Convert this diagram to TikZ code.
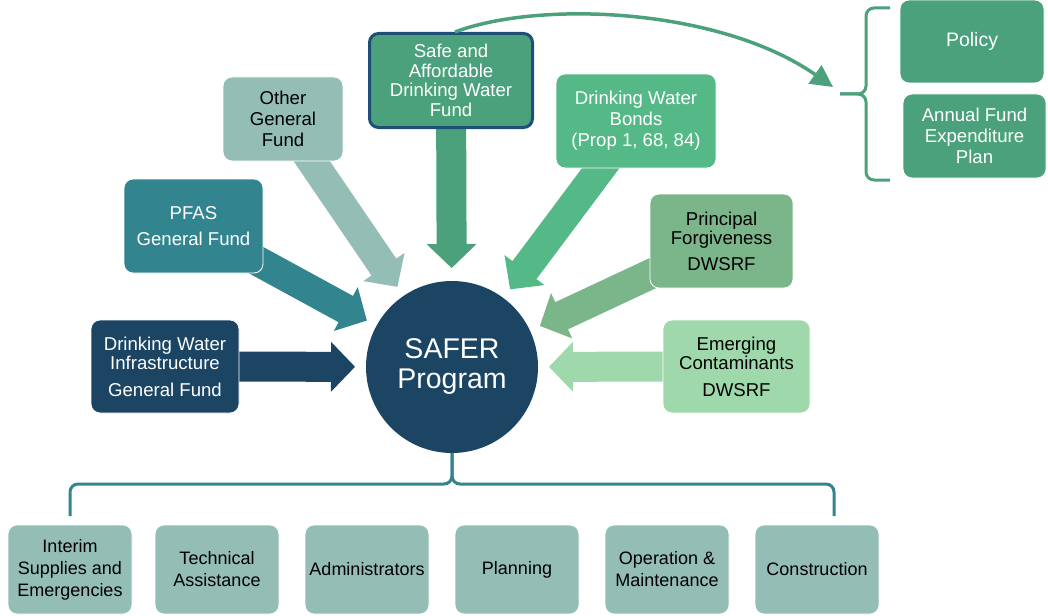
\documentclass[tikz,border=0pt]{standalone}
\usepackage{fontspec}
\setmainfont{Liberation Sans}
\usetikzlibrary{calc,arrows.meta,backgrounds}
\definecolor{navy}{HTML}{1B4563}
\definecolor{teal}{HTML}{32858F}
\definecolor{lgray}{HTML}{94BDB6}
\definecolor{midgreen}{HTML}{4AA17B}
\definecolor{bondsg}{HTML}{55B887}
\definecolor{princg}{HTML}{7BB68B}
\definecolor{emergg}{HTML}{9FD8AB}
\definecolor{borderblue}{HTML}{1F4E79}
\newcommand\blockarr[3]{%
  \path ($(#3)!24pt!(#2)$) coordinate (hb);
  \fill[#1] ($(#2)!15pt!90:(#3)$) -- ($(hb)!15pt!90:(#3)$) -- ($(hb)!25pt!90:(#3)$) -- (#3)
    -- ($(hb)!25pt!-90:(#3)$) -- ($(hb)!15pt!-90:(#3)$) -- ($(#2)!15pt!-90:(#3)$) -- cycle;
}
\begin{document}
\begin{tikzpicture}[x=1pt,y=-1pt,
  box/.style={rectangle, rounded corners=9pt, draw=white, line width=0.8pt, align=center,
    inner sep=2pt, font=\fontsize{18.6}{19.5}\selectfont},
  bottombox/.style={box, fill=lgray, text=black, minimum width=124pt, minimum height=89pt,
    font=\fontsize{18}{22}\selectfont},
  sidebox/.style={box, fill=midgreen, text=white},
  bracketline/.style={line width=3pt, rounded corners=8pt},
  curvearr/.style={draw=midgreen, line width=3.5pt, -{Triangle[length=22pt,width=22pt]}}]
\useasboundingbox (0,0) rectangle (1048,615);

% central circle
\node[circle, fill=navy, text=white, minimum size=172pt, inner sep=0pt, align=center,
  font=\fontsize{28.5}{30}\selectfont] (c) at (452,367) {SAFER\\Program};

% source boxes
\node[box, fill=navy, text=white, minimum width=148pt, minimum height=93pt] (infra) at (165,366.5)
  {Drinking Water\\Infrastructure\\[7pt]General Fund};
\node[box, fill=teal, text=white, minimum width=139pt, minimum height=94pt] (pfas) at (193.5,226)
  {PFAS\\[7pt]General Fund};
\node[box, fill=lgray, text=black, minimum width=120pt, minimum height=84pt,
  font=\fontsize{18.6}{21}\selectfont] (other) at (283,119) {Other\\General\\Fund};
\node[box, fill=midgreen, text=white, draw=borderblue, line width=3pt, minimum width=163pt,
  minimum height=94pt] (safe) at (451,80.5) {Safe and\\Affordable\\Drinking Water\\Fund};
\node[box, fill=bondsg, text=white, minimum width=160pt, minimum height=94pt,
  font=\fontsize{18.6}{21}\selectfont] (bonds) at (636,121) {Drinking Water\\Bonds\\(Prop 1, 68, 84)};
\node[box, fill=princg, text=black, minimum width=143pt, minimum height=94pt] (princ) at (721.5,241)
  {Principal\\Forgiveness\\[6pt]DWSRF};
\node[box, fill=emergg, text=black, minimum width=147pt, minimum height=93pt] (emerg) at (736.5,366.5)
  {Emerging\\Contaminants\\[7pt]DWSRF};

% right side boxes
\node[sidebox, minimum width=144pt, minimum height=83pt, font=\fontsize{19.5}{21}\selectfont]
  (policy) at (972,41.5) {Policy};
\node[sidebox, minimum width=143pt, minimum height=84pt, font=\fontsize{18.6}{21}\selectfont]
  (annual) at (974.5,136) {Annual Fund\\Expenditure\\Plan};

% bottom boxes
\node[bottombox] (b1) at (70,569.5) {Interim\\Supplies and\\Emergencies};
\node[bottombox] (b2) at (217,569.5) {Technical\\Assistance};
\node[bottombox] (b3) at (367,569.5) {Administrators};
\node[bottombox] (b4) at (517,569.5) {Planning};
\node[bottombox] (b5) at (667,569.5) {Operation \&\\Maintenance};
\node[bottombox] (b6) at (817,569.5) {Construction};

% tips of block arrows
\coordinate (tInfra) at ($(c.center)!97pt!(infra.center)$);
\coordinate (tPfas) at ($(c.center)!97pt!(pfas.center)$);
\coordinate (tOther) at ($(c.center)!97pt!(other.center)$);
\coordinate (tSafe) at ($(c.center)!99pt!(safe.center)$);
\coordinate (tBonds) at ($(c.center)!97pt!(bonds.center)$);
\coordinate (tPrinc) at ($(c.center)!97pt!(princ.center)$);
\coordinate (tEmerg) at ($(c.center)!97pt!(emerg.center)$);

\begin{pgfonlayer}{background}
  \blockarr{navy}{infra.center}{tInfra}
  \blockarr{teal}{pfas.center}{tPfas}
  \blockarr{lgray}{other.center}{tOther}
  \blockarr{midgreen}{safe.center}{tSafe}
  \blockarr{bondsg}{bonds.center}{tBonds}
  \blockarr{princg}{princ.center}{tPrinc}
  \blockarr{emergg}{emerg.center}{tEmerg}
\end{pgfonlayer}

% bottom bracket
\coordinate (bl) at (70,516);
\coordinate (br) at (834,516);
\coordinate (bm) at (452,484);
\draw[bracketline, draw=teal] (bl) |- (bm) -- (c.south);
\draw[bracketline, draw=teal] (br) |- (bm) -- (c.south);

% right brace
\coordinate (rt) at (890,8);
\coordinate (rb) at (890,180);
\coordinate (rtip) at (840,94);
\draw[bracketline, draw=midgreen] (rt) -| (866,94) -- (rtip);
\draw[bracketline, draw=midgreen] (rb) -| (866,94) -- (rtip);

% curved arrow
\coordinate (arrend) at (833,87);
\draw[curvearr] ($(safe.north)+(4,0)$) .. controls (540,0) and (720,8) .. (arrend);
\end{tikzpicture}
\end{document}
